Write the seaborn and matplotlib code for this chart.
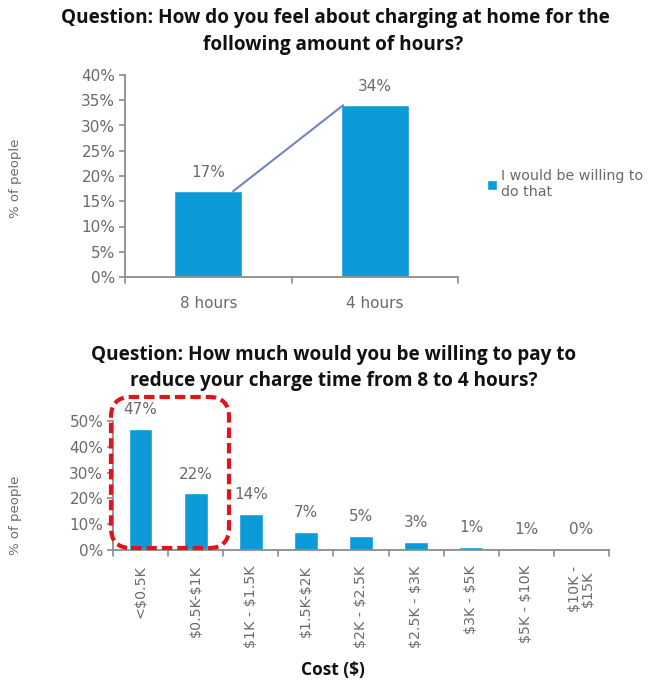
import matplotlib
matplotlib.use("Agg")
import matplotlib.pyplot as plt
from matplotlib.patches import FancyBboxPatch
import seaborn as sns
import pandas as pd

# Survey results
hours_labels = ["8 hours", "4 hours"]
hours_values = [17, 34]
hours_series = "I would be willing to\ndo that"

cost_labels = ["<$0.5K", "$0.5K-$1K", "$1K - $1.5K", "$1.5K-$2K", "$2K - $2.5K",
               "$2.5K - $3K", "$3K - $5K", "$5K - $10K", "$10K -\n$15K"]
cost_values = [47, 22, 14, 7, 5.4, 3.2, 1.2, 0.6, 0.4]

top_yticks = [0, 5, 10, 15, 20, 25, 30, 35, 40]
bottom_yticks = [0, 10, 20, 30, 40, 50]

BAR = "#0d9ad8"
GRAY_TXT = "#6a6a6a"
SPINE = "#8c8c8c"
BODY = ["DejaVu Sans"]
HEAD = ["Open Sans", "DejaVu Sans"]
WEIGHT = "normal"

sns.set_theme(style="white")
plt.rcParams["font.family"] = BODY
plt.rcParams["text.parse_math"] = False

W, H = 655, 683
fig = plt.figure(figsize=(W / 100, H / 100), dpi=100)
fig.patch.set_facecolor("white")


def px_axes(left, top, right, bottom):
    return fig.add_axes([left / W, 1 - bottom / H, (right - left) / W, (bottom - top) / H])


def style_axes(ax):
    sns.despine(ax=ax)
    for side in ("left", "bottom"):
        ax.spines[side].set_color(SPINE)
        ax.spines[side].set_linewidth(1.3)
    ax.tick_params(axis="y", which="both", left=True, length=4, width=1.2,
                   color=SPINE, labelsize=11, labelcolor=GRAY_TXT, pad=3)
    for t in ax.get_yticklabels():
        t.set_fontweight(WEIGHT)
    ax.set_facecolor("white")


def heading(x, y, text, size=13.7):
    fig.text(x / W, 1 - y / H, text, ha="center", va="center", fontsize=size,
             fontweight="bold", color="#111111", family=HEAD)


# ---------- Top chart: hours ----------
ax1 = px_axes(125, 75, 458, 277)
df1 = pd.DataFrame({"hours": hours_labels, "pct": hours_values})
sns.barplot(data=df1, x="hours", y="pct", color=BAR, width=0.41,
            saturation=1, ax=ax1, label=hours_series)
ax1.plot([0.15, 0.81], hours_values, color="#7482c6", lw=1.5, zorder=3)
ax1.set_xlim(-0.5, 1.5)
ax1.set_ylim(0, 40)
ax1.set_yticks(top_yticks)
ax1.set_yticklabels([f"{v}%" for v in top_yticks])
style_axes(ax1)
ax1.set_xticks([0, 1])
ax1.set_xticklabels(hours_labels, fontsize=11, color=GRAY_TXT, fontweight=WEIGHT)
ax1.tick_params(axis="x", length=0, pad=14)
for xb in (-0.5, 0.5, 1.5):
    ax1.plot([xb, xb], [0, -1.2], color=SPINE, lw=1.2, clip_on=False)
ax1.set_xlabel("")
ax1.set_ylabel("")
for i, v in enumerate(hours_values):
    ax1.text(i, v + 2.3, f"{v:.0f}%", ha="center", va="bottom",
             fontsize=11, color=GRAY_TXT, fontweight=WEIGHT)
leg = ax1.legend(loc="center left", bbox_to_anchor=(1.07, 0.46), frameon=False,
                 fontsize=10.3, handlelength=0.7, handleheight=0.7,
                 handletextpad=0.3, borderaxespad=0)
for t in leg.get_texts():
    t.set_color(GRAY_TXT)
    t.set_fontweight(WEIGHT)

heading(335, 18, "Question: How do you feel about charging at home for the")
heading(333, 45, "following amount of hours?")
fig.text(16 / W, 1 - 178 / H, "% of people", rotation=90, ha="center", va="center",
         fontsize=9.5, color=GRAY_TXT, fontweight=WEIGHT)

# ---------- Bottom chart: cost ----------
ax2 = px_axes(113, 421, 609, 550)
df2 = pd.DataFrame({"cost": cost_labels, "pct": cost_values})
sns.barplot(data=df2, x="cost", y="pct", color=BAR, width=0.43,
            saturation=1, ax=ax2)
ax2.set_xlim(-0.5, len(cost_labels) - 0.5)
ax2.set_ylim(0, 50)
ax2.set_yticks(bottom_yticks)
ax2.set_yticklabels([f"{v}%" for v in bottom_yticks])
style_axes(ax2)
ax2.set_xticks(range(len(cost_labels)))
ax2.set_xticklabels(cost_labels, rotation=90, fontsize=10.3, color=GRAY_TXT,
                    va="top", ha="center", linespacing=0.95, fontweight=WEIGHT)
ax2.tick_params(axis="x", length=0, pad=11)
for xb in [i - 0.5 for i in range(len(cost_labels) + 1)]:
    ax2.plot([xb, xb], [0, -2.2], color=SPINE, lw=1.2, clip_on=False)
ax2.set_xlabel("")
ax2.set_ylabel("")
for i, v in enumerate(cost_values):
    ax2.text(i, v + 4.5, f"{v:.0f}%", ha="center", va="bottom",
             fontsize=11, color=GRAY_TXT, fontweight=WEIGHT)

heading(334, 355, "Question: How much would you be willing to pay to")
heading(334, 381, "reduce your charge time from 8 to 4 hours?")
fig.text(16 / W, 1 - 515 / H, "% of people", rotation=90, ha="center", va="center",
         fontsize=9.5, color=GRAY_TXT, fontweight=WEIGHT)
heading(333, 670, "Cost ($)", size=12.5)

# Dashed highlight around the two cheapest bands
box = FancyBboxPatch((1.11, (H - 548) / 100), 1.18, 1.51,
                     boxstyle="round,pad=0,rounding_size=0.2",
                     transform=fig.dpi_scale_trans, fill=False,
                     edgecolor="#e0151b", linewidth=3,
                     linestyle=(0, (2.5, 1.2)), zorder=10)
fig.add_artist(box)

fig.savefig("out.png", dpi=100, facecolor="white")
